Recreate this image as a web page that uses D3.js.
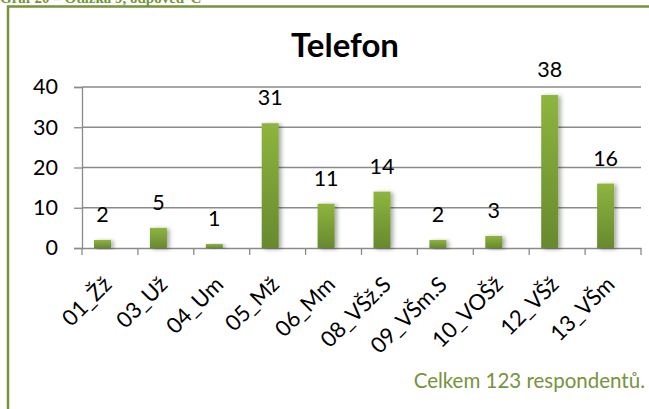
<!DOCTYPE html>
<html><head><meta charset="utf-8">
<script src="https://cdn.jsdelivr.net/npm/d3@7"></script>
<style>body{margin:0;background:#fff}svg{display:block}</style>
</head><body>
<svg id="c" width="649" height="409"></svg>
<script>
const categories = ["01_Žž","03_Už","04_Um","05_Mž","06_Mm","08_VŠž.S","09_VŠm.S","10_VOŠž","12_VŠž","13_VŠm"];
const values = [2,5,1,31,11,14,2,3,38,16];
const yTicks = [0,10,20,30,40];
const title = "Telefon";
const caption = "Celkem 123 respondentů.";
const header = "Graf 20 – Otázka 9, odpověď C";

const svg = d3.select("#c");
const green = "#77933C";
const font = "Lato, 'Open Sans', sans-serif";

const defs = svg.append("defs");
const grad = defs.append("linearGradient").attr("id","bg").attr("x1",0).attr("y1",0).attr("x2",0).attr("y2",1);
grad.append("stop").attr("offset","0%").attr("stop-color","#8DB53F");
grad.append("stop").attr("offset","100%").attr("stop-color","#67892E");
const f = defs.append("filter").attr("id","sh").attr("x","-50%").attr("y","-20%").attr("width","200%").attr("height","140%");
f.append("feDropShadow").attr("dx",2.5).attr("dy",1).attr("stdDeviation",2).attr("flood-color","#000").attr("flood-opacity",0.35);

// header (cut off at top, as in the source)
svg.append("text").attr("x",0).attr("y",3).attr("font-family","'Liberation Serif', serif").attr("font-weight","bold")
  .attr("font-size",15).attr("fill",green).text(header);

// frame
svg.append("path").attr("d","M8,409 V6.5 H649").attr("fill","none").attr("stroke",green).attr("stroke-width",2.5);

const x = d3.scaleBand().domain(categories).range([82,641]).paddingInner(0).paddingOuter(0);
const y = d3.scaleLinear().domain([0,40]).range([248,87]);
const bw = x.bandwidth();

// gridlines
svg.append("g").selectAll("line").data(yTicks.filter(d=>d>0)).join("line")
  .attr("x1",82).attr("x2",641).attr("y1",d=>y(d)).attr("y2",d=>y(d))
  .attr("stroke","#8a8a8a").attr("stroke-width",1.3);

// y axis
const ya = svg.append("g").attr("transform","translate(82,0)")
  .call(d3.axisLeft(y).tickValues(yTicks).tickSize(8).tickPadding(16));
ya.selectAll("path,line").attr("stroke","#8a8a8a").attr("stroke-width",1.3);
ya.selectAll("text").attr("font-family",font).attr("font-size",21.5).attr("fill","#000");

// x axis
const xa = svg.append("g").attr("transform","translate(0,248)")
  .call(d3.axisBottom(x).tickSize(0).tickSizeOuter(0));
xa.select("path").attr("stroke","#8a8a8a").attr("stroke-width",1.3);
svg.append("g").selectAll("line").data(categories.map(c=>x(c)).concat([x.range()[1]])).join("line")
  .attr("x1",d=>d).attr("x2",d=>d).attr("y1",248).attr("y2",255)
  .attr("stroke","#8a8a8a").attr("stroke-width",1.3);
xa.selectAll(".tick text")
  .attr("font-family",font).attr("font-size",22).attr("fill","#000")
  .attr("text-anchor","end").attr("dy",0).attr("y",0)
  .attr("transform","translate(3,38) rotate(-45)");

// bars
svg.append("g").selectAll("rect").data(values).join("rect")
  .attr("x",(d,i)=>x(categories[i])+bw*0.215).attr("width",bw*0.304)
  .attr("y",d=>y(d)).attr("height",d=>y(0)-y(d))
  .attr("fill","url(#bg)").attr("filter","url(#sh)");

// value labels
svg.append("g").selectAll("text").data(values).join("text")
  .attr("x",(d,i)=>x(categories[i])+bw*0.215+bw*0.152).attr("y",d=>y(d)-18)
  .attr("text-anchor","middle").attr("font-family",font).attr("font-size",21.5).attr("fill","#000")
  .text(d=>d);

// title
svg.append("text").attr("x",345).attr("y",57).attr("text-anchor","middle")
  .attr("font-family",font).attr("font-weight","bold").attr("font-size",33).attr("fill","#000").text(title);

// caption
svg.append("text").attr("x",645).attr("y",388).attr("text-anchor","end")
  .attr("font-family",font).attr("font-size",20.5).attr("fill",green).text(caption);
</script>
</body></html>
